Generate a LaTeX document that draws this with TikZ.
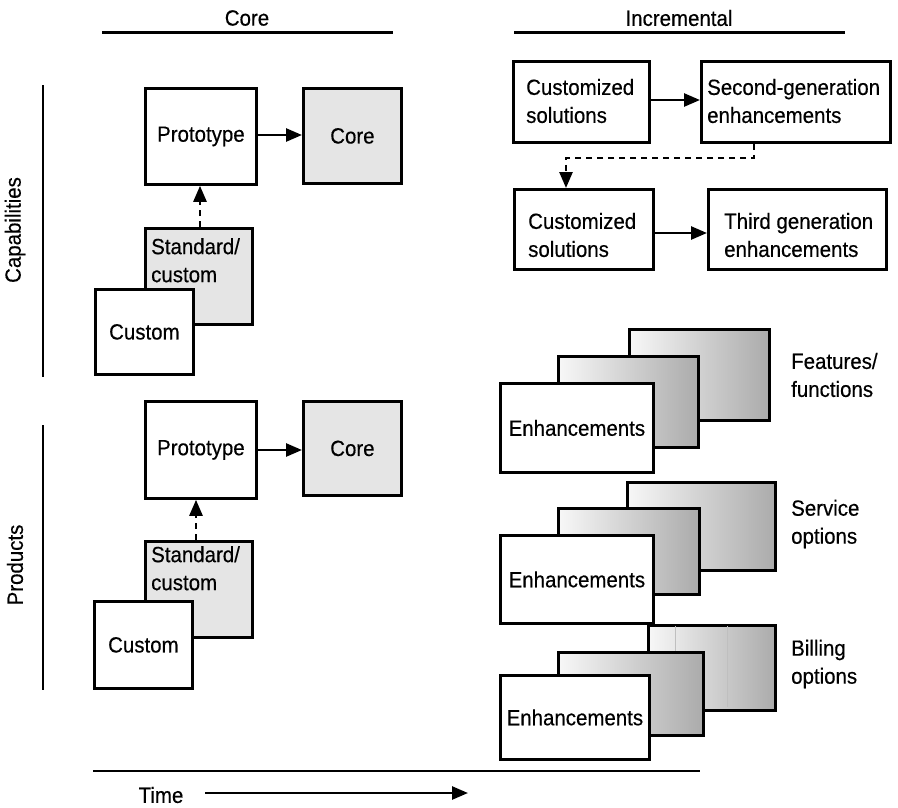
\documentclass[tikz,border=0pt]{standalone}
\usepackage{fontspec}
\setmainfont{Liberation Sans}[FakeStretch=0.93,FakeBold=0.4]
\usetikzlibrary{arrows.meta}

% box given by its top-left and bottom-right corners (picture units)
\newcommand\cornerbox[7][]{%
  \node[box,#1,anchor=north west,minimum width={#5-#3},minimum height={#6-#4}] (#2) at (#3,#4) {#7};}

\begin{document}
\begin{tikzpicture}[x=1pt,y=-1pt,
  box/.style={draw=black,line width=2.8pt,fill=white,inner sep=0pt,
              font=\fontsize{22}{28}\selectfont},
  greybox/.style={fill=black!10},
  fadebox/.style={left color=black!3,right color=black!33},
  txt/.style={font=\fontsize{22}{28}\selectfont,inner sep=0pt,align=left},
  rule/.style={line width=3pt},
  sideline/.style={line width=2.4pt},
  flow/.style={line width=2.6pt,-{Triangle[length=16pt,width=13pt]}},
  dflow/.style={flow,dash pattern=on 6pt off 5pt},
  seam/.style={black!25,line width=0.7pt}
]
\useasboundingbox (0,0) rectangle (898,807);

% column headings
\node[txt] (hcore) at (247,18) {Core};
\node[txt] (hinc) at (679,18) {Incremental};
\draw[rule] (102,32) -- (393,32);
\draw[rule] (514,32) -- (845,32);

% row headings
\node[txt,rotate=90] (hcap) at (15,230) {Capabilities};
\node[txt,rotate=90] (hprod) at (15,565) {Products};
\draw[sideline] (43,85) -- (43,377);
\draw[sideline] (43,425) -- (43,690);

% core column, capabilities
\cornerbox{proto1}{144}{87}{255}{183}{Prototype}
\cornerbox[greybox]{core1}{302}{87}{400}{182}{Core}
\cornerbox[greybox]{std1}{144}{227}{251}{323}{}
\node[txt,anchor=north west] (std1t) at (151,238) {Standard/\\custom};
\cornerbox{cust1}{94}{288}{192}{373}{Custom}
\draw[flow] (proto1.east |- 0,135) -- (core1.west |- 0,135);
\draw[dflow] (std1.north -| 200,0) -- (proto1.south -| 200,0);

% core column, products
\cornerbox{proto2}{144}{400}{255}{497}{Prototype}
\cornerbox[greybox]{core2}{302}{400}{400}{494}{Core}
\cornerbox[greybox]{std2}{144}{540}{251}{636}{}
\node[txt,anchor=north west] (std2t) at (151,546) {Standard/\\custom};
\cornerbox{cust2}{93}{600}{191}{687}{Custom}
\draw[flow] (proto2.east |- 0,450) -- (core2.west |- 0,450);
\draw[dflow] (std2.north -| 196,0) -- (proto2.south -| 196,0);

% incremental column, capabilities
\cornerbox{sol1}{512}{60}{648}{141}{}
\node[txt,anchor=west] (sol1t) at (526,101) {Customized\\solutions};
\cornerbox{gen2}{700}{60}{889}{141}{}
\node[txt,anchor=west] (gen2t) at (707,101) {Second-generation\\enhancements};
\cornerbox{sol2}{513}{188}{652}{268}{}
\node[txt,anchor=west] (sol2t) at (528,235) {Customized\\solutions};
\cornerbox{gen3}{707}{188}{885}{268}{}
\node[txt,anchor=west] (gen3t) at (724,235) {Third generation\\enhancements};
\draw[flow] (sol1.east |- 0,100) -- (gen2.west |- 0,100);
\draw[flow] (sol2.east |- 0,233) -- (gen3.west |- 0,233);
\draw[dflow] (gen2.south -| 754,0) -- (754,158) -- (566,158) -- (sol2.north -| 566,0);

% incremental column, products: three stacks of enhancements
\cornerbox[fadebox]{ffback}{628}{328}{768}{419}{}
\cornerbox[fadebox]{ffmid}{557}{355}{697}{446}{}
\cornerbox{ff}{499}{382}{652}{471}{Enhancements}
\node[txt,anchor=west] (fflab) at (791,375) {Features/\\functions};

\cornerbox[fadebox]{soback}{626}{481}{774}{569}{}
\cornerbox[fadebox]{somid}{557}{507}{698}{593}{}
\cornerbox{so}{499}{534}{652}{622}{Enhancements}
\node[txt,anchor=west] (solab) at (791,524) {Service\\options};

\cornerbox[fadebox]{boback}{647}{624}{774}{709}{}
\draw[seam] (675,626) -- (675,707);
\draw[seam] (727,626) -- (727,707);
\cornerbox[fadebox]{bomid}{557}{651}{702}{734}{}
\cornerbox{bo}{499}{674}{648}{758}{Enhancements}
\node[txt,anchor=west] (bolab) at (791,664) {Billing\\options};

% time axis
\draw[sideline] (93,771) -- (700,771);
\node[txt] (time) at (161,795) {Time};
\coordinate (tstart) at (205,793);
\coordinate (tend) at (468,793);
\draw[flow] (tstart) -- (tend);
\end{tikzpicture}
\end{document}
